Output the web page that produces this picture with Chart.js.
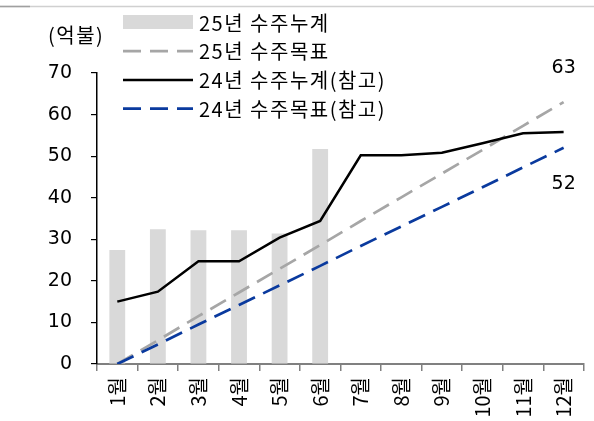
<!DOCTYPE html>
<html><head><meta charset="utf-8">
<script src="https://cdn.jsdelivr.net/npm/chart.js@4/dist/chart.umd.min.js"></script>
<style>html,body{margin:0;padding:0;background:#fff}#wrap{width:594px;height:421px;position:relative}</style>
</head><body><div id="wrap"><canvas id="c" width="594" height="421"></canvas></div>
<script>
const months = ['1월','2월','3월','4월','5월','6월','7월','8월','9월','10월','11월','12월'];
const orders25 = [27.4, 32.4, 32.2, 32.2, 31.4, 51.7, null, null, null, null, null, null];
const target25 = [0, 5.7, 11.5, 17.2, 22.9, 28.6, 34.4, 40.1, 45.8, 51.5, 57.3, 63];
const orders24 = [15.0, 17.4, 24.7, 24.7, 30.4, 34.4, 50.2, 50.2, 50.8, 53.1, 55.5, 55.8];
const target24 = [0, 4.7, 9.5, 14.2, 18.9, 23.6, 28.4, 33.1, 37.8, 42.5, 47.3, 52];
const seriesNames = ['25년 수주누계','25년 수주목표','24년 수주누계(참고)','24년 수주목표(참고)'];
const unitLabel = '(억불)';
const yTicks = [0,10,20,30,40,50,60,70];

const FONT = '"Noto Sans CJK KR", "Noto Sans", sans-serif';
const NUMFONT = '"DejaVu Sans", "Noto Sans CJK KR", sans-serif';
const C_BAR = '#d9d9d9', C_GRAY = '#a6a6a6', C_BLACK = '#000000', C_BLUE = '#0a3a9e';

const extras = {
  id: 'extras',
  afterDraw(chart) {
    const ctx = chart.ctx;
    ctx.save();
    // top rule
    ctx.strokeStyle = '#d0d0d0'; ctx.lineWidth = 1.5;
    ctx.beginPath(); ctx.moveTo(0, 6.5); ctx.lineTo(594, 6.5); ctx.stroke();
    ctx.strokeStyle = '#a0a0a0';
    ctx.beginPath(); ctx.moveTo(0, 6.5); ctx.lineTo(30, 6.5); ctx.stroke();
    // unit label
    ctx.fillStyle = '#000'; ctx.font = '20px ' + FONT;
    ctx.letterSpacing = '1.5px';
    ctx.textBaseline = 'middle'; ctx.textAlign = 'left';
    ctx.fillText(unitLabel, 48, 35);
    // legend
    const ds = chart.data.datasets;
    const x0 = 123, x1 = 193, tx = 199, y0 = 22, dy = 28.7;
    [0, 1, 2, 3].forEach((i, k) => {
      const d = ds[i];
      const y = y0 + k * dy;
      if (d.type === 'bar') {
        ctx.fillStyle = d.backgroundColor;
        ctx.fillRect(x0, y - 7, x1 - x0, 14);
      } else {
        ctx.strokeStyle = d.borderColor; ctx.lineWidth = d.borderWidth;
        ctx.setLineDash(d.borderDash || []);
        ctx.beginPath(); ctx.moveTo(x0, y + 0.5); ctx.lineTo(x1, y + 0.5); ctx.stroke();
        ctx.setLineDash([]);
      }
      ctx.fillStyle = '#000'; ctx.font = '20px ' + FONT;
      ctx.textAlign = 'left'; ctx.textBaseline = 'middle';
      ctx.fillText(d.label, tx, y + 1);
    });
    ctx.letterSpacing = '0px';
    // end labels
    const xs = chart.scales.x, ys = chart.scales.y;
    const last = months.length - 1;
    const xl = xs.getPixelForValue(last);
    ctx.textAlign = 'center'; ctx.font = '19px ' + NUMFONT;
    ctx.fillText(String(target25[last]), xl, ys.getPixelForValue(target25[last]) - 34);
    ctx.fillText(String(target24[last]), xl, ys.getPixelForValue(target24[last]) + 36);
    ctx.restore();
  }
};

new Chart(document.getElementById('c'), {
  data: {
    labels: months,
    datasets: [
      {type:'bar', label: seriesNames[0], data: orders25, backgroundColor: C_BAR, barPercentage: 0.39, categoryPercentage: 1.0, order: 4},
      {type:'line', label: seriesNames[1], data: target25, borderColor: C_GRAY, borderWidth: 2.7, borderDash: [18, 9], pointRadius: 0, tension: 0, fill: false, order: 3},
      {type:'line', label: seriesNames[2], data: orders24, borderColor: C_BLACK, borderWidth: 2.5, pointRadius: 0, tension: 0, fill: false, order: 1},
      {type:'line', label: seriesNames[3], data: target24, borderColor: C_BLUE, borderWidth: 2.7, borderDash: [18, 9], pointRadius: 0, tension: 0, fill: false, order: 2}
    ]
  },
  options: {
    responsive: false, animation: false,
    layout: { padding: { top: 73, right: 9, left: 0, bottom: 0 } },
    plugins: { legend: { display: false }, tooltip: { enabled: false } },
    scales: {
      x: {
        type: 'category', offset: true,
        grid: { offset: true, drawOnChartArea: false, drawTicks: true, tickLength: 7, color: '#808080', lineWidth: 1.5 },
        border: { display: true, color: '#808080', width: 2 },
        ticks: { maxRotation: 90, minRotation: 90, padding: 6, color: '#000', font: { size: 20, family: FONT } },
        afterFit(s) { s.height = 57; }
      },
      y: {
        min: 0, max: 70,
        afterBuildTicks(s) { s.ticks = yTicks.map(v => ({ value: v })); },
        grid: { drawOnChartArea: false, drawTicks: true, tickLength: 6, color: '#000', lineWidth: 1.2 },
        border: { display: true, color: '#000', width: 1.5 },
        ticks: { padding: 19, color: '#000', font: { size: 19, family: NUMFONT } },
        afterFit(s) { s.width = 97; }
      }
    }
  },
  plugins: [extras]
});
</script></body></html>
